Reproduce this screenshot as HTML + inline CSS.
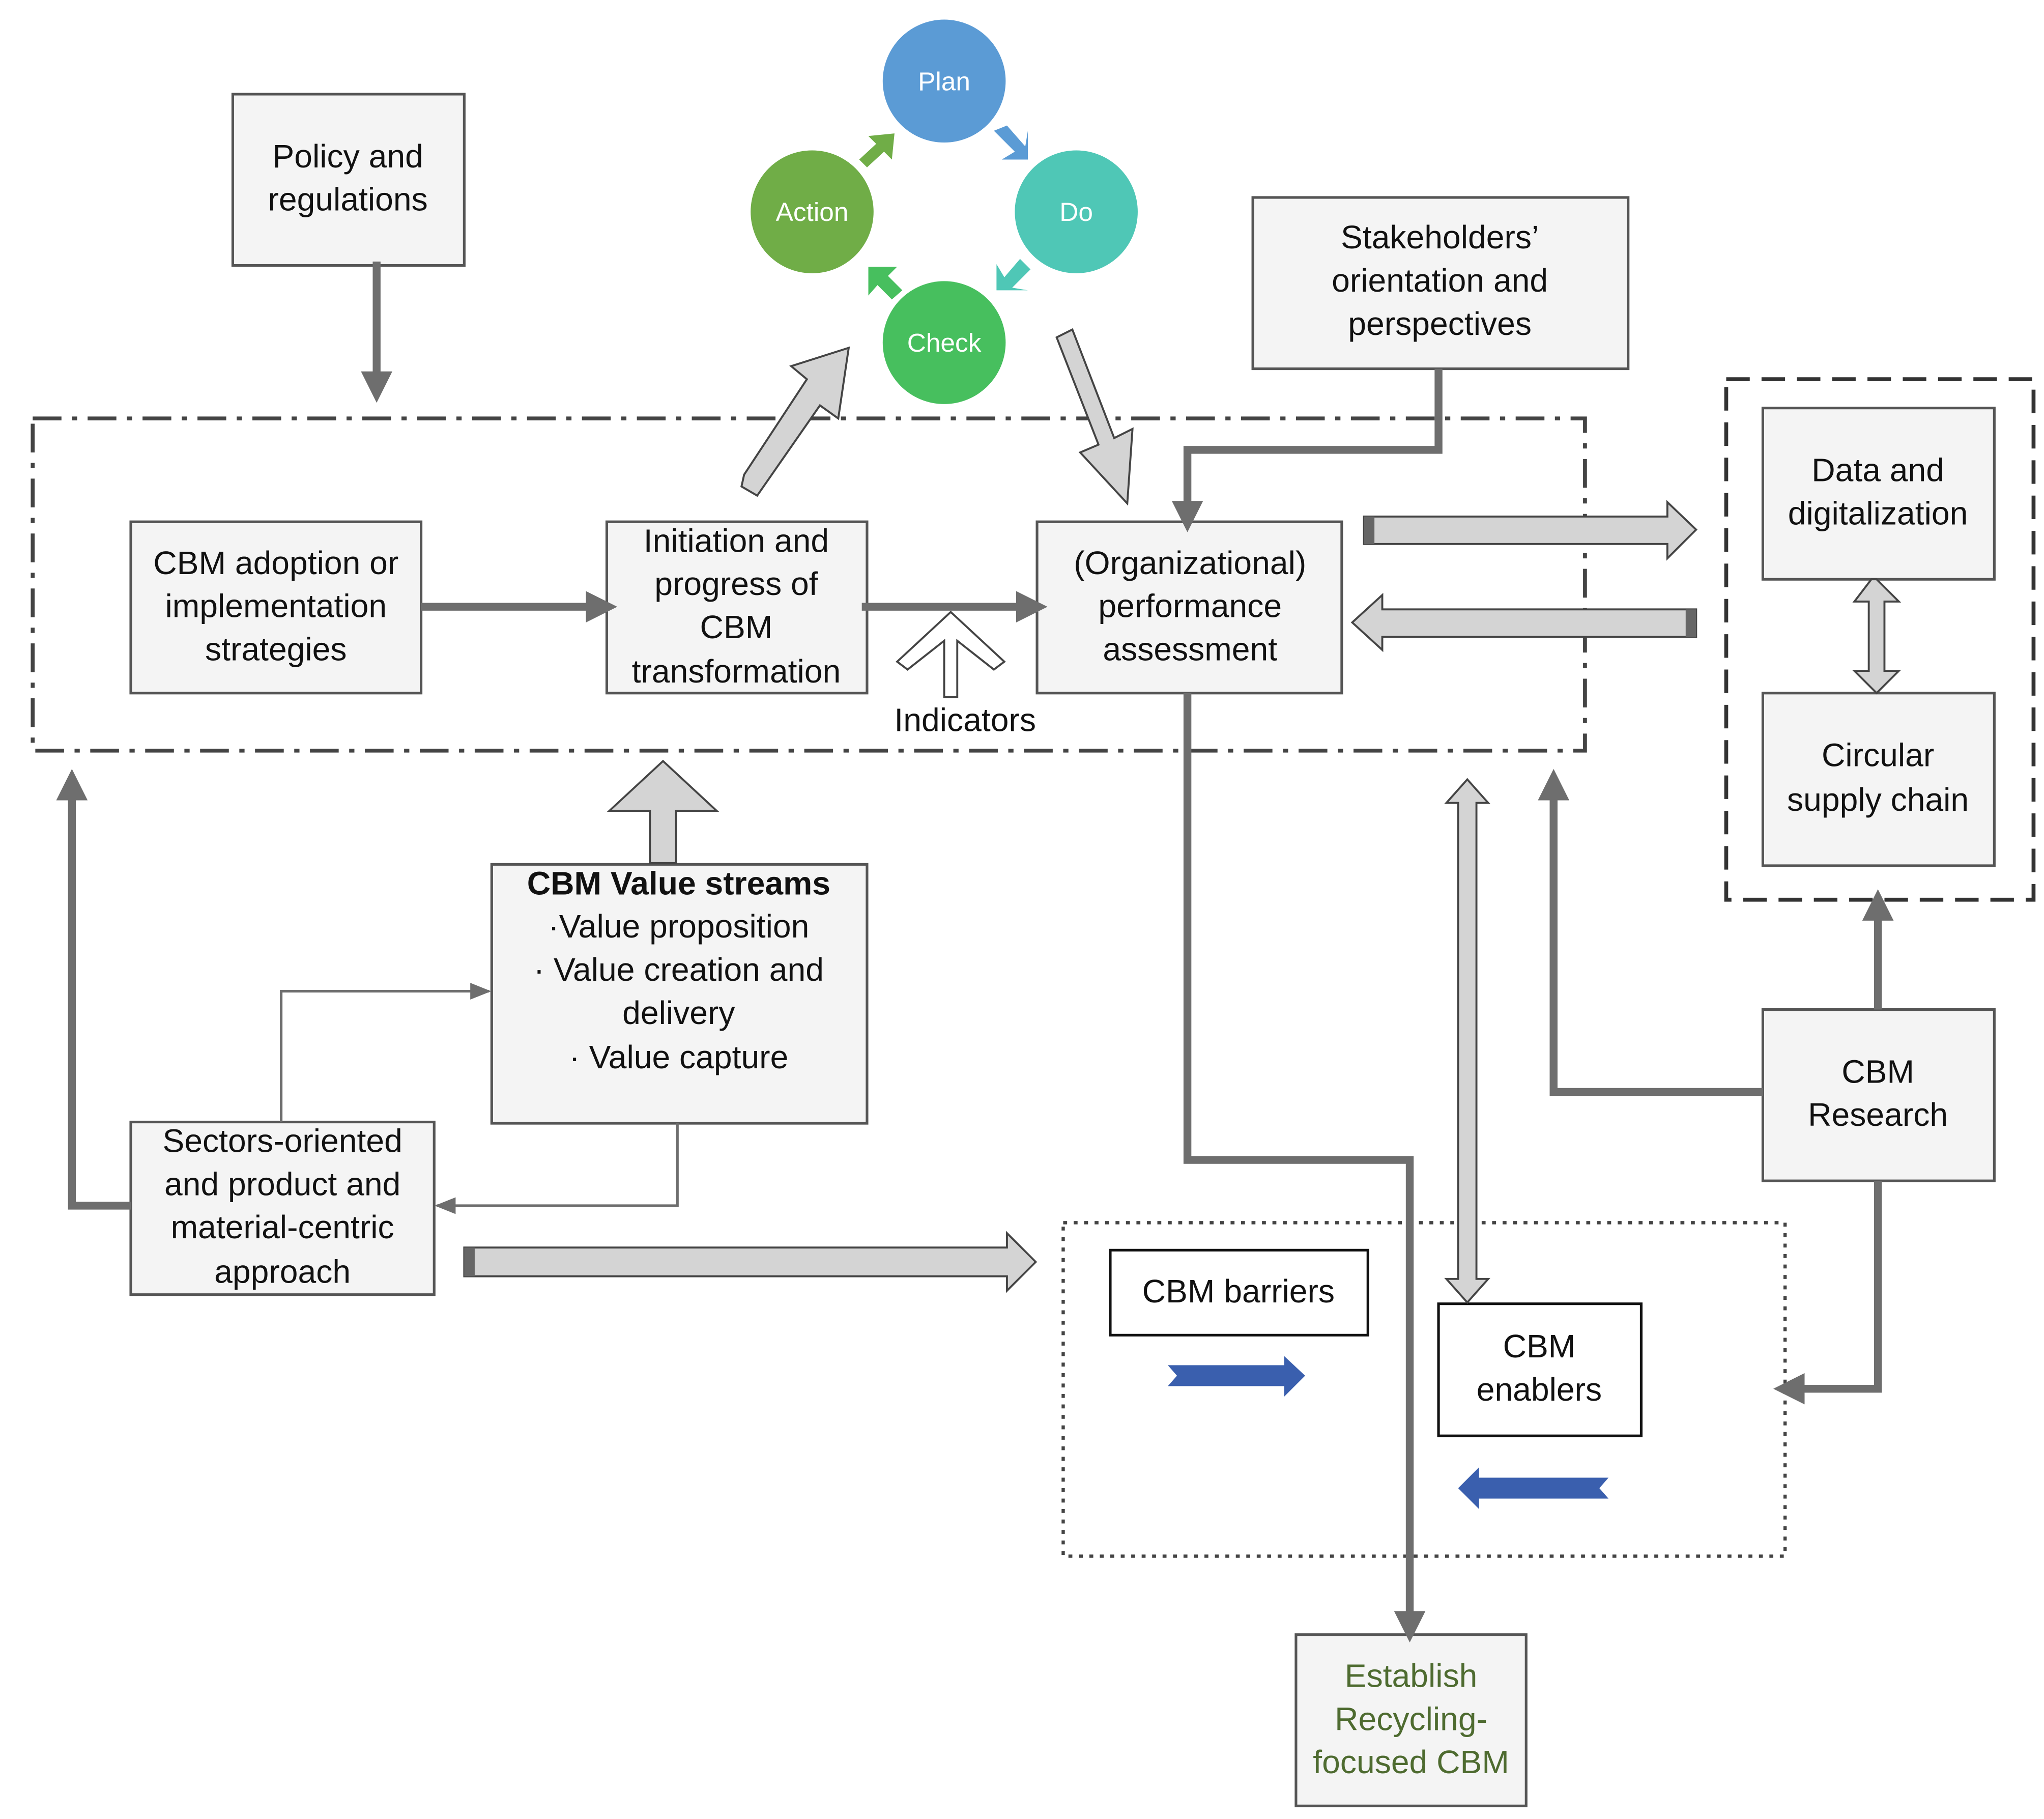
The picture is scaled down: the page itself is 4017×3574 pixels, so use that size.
<!DOCTYPE html>
<html><head><meta charset="utf-8"><style>
html,body{margin:0;padding:0;background:#fff;}
svg{display:block;}
text{font-family:"Liberation Sans",sans-serif;font-size:25px;fill:#111;text-anchor:middle;}
.box{fill:#f4f4f4;stroke:#555;stroke-width:2;}
.ln{stroke:#6e6e6e;fill:none;stroke-width:6;}
.tn{stroke:#6e6e6e;fill:none;stroke-width:2;}
.blk{fill:#d4d4d4;stroke:#444;stroke-width:1.5;}
.ct{fill:#fff;font-size:20px;}
</style></head><body>
<svg width="4017" height="3574" viewBox="0 0 1563 1391" preserveAspectRatio="none" xmlns="http://www.w3.org/2000/svg">
<defs>
<marker id="ah" viewBox="0 0 10 10" refX="5" refY="5" markerWidth="4" markerHeight="4" orient="auto"><path d="M0,0 L10,5 L0,10 z" fill="#6e6e6e"/></marker>
<marker id="at" viewBox="0 0 10 10" refX="9" refY="5" markerWidth="8" markerHeight="8" orient="auto"><path d="M0,1 L10,5 L0,9 z" fill="#6e6e6e"/></marker>
</defs>

<rect x="25" y="320" width="1187" height="254" fill="none" stroke="#444" stroke-width="3" stroke-dasharray="22,8,4,8"/>
<rect x="1320" y="290" width="235" height="398" fill="none" stroke="#333" stroke-width="3" stroke-dasharray="18,9"/>
<rect x="813" y="935" width="552" height="255" fill="none" stroke="#444" stroke-width="2.5" stroke-dasharray="3,5"/>

<rect class="box" x="178" y="72" width="177" height="131"/>
<text x="266" y="128">Policy and</text><text x="266" y="161">regulations</text>

<rect class="box" x="100" y="399" width="222" height="131"/>
<text x="211" y="439">CBM adoption or</text><text x="211" y="472">implementation</text><text x="211" y="505">strategies</text>

<rect class="box" x="464" y="399" width="199" height="131"/>
<text x="563" y="422">Initiation and</text><text x="563" y="455">progress of</text><text x="563" y="488">CBM</text><text x="563" y="522">transformation</text>

<rect class="box" x="793" y="399" width="233" height="131"/>
<text x="910" y="439">(Organizational)</text><text x="910" y="472">performance</text><text x="910" y="505">assessment</text>

<rect class="box" x="958" y="151" width="287" height="131"/>
<text x="1101" y="190">Stakeholders’</text><text x="1101" y="223">orientation and</text><text x="1101" y="256">perspectives</text>

<rect class="box" x="1348" y="312" width="177" height="131"/>
<text x="1436" y="368">Data and</text><text x="1436" y="401">digitalization</text>

<rect class="box" x="1348" y="530" width="177" height="132"/>
<text x="1436" y="586">Circular</text><text x="1436" y="620">supply chain</text>

<rect class="box" x="376" y="661" width="287" height="198"/>
<text x="519" y="684" style="font-weight:bold">CBM Value streams</text>
<text x="519" y="717">·Value proposition</text>
<text x="519" y="750">· Value creation and</text>
<text x="519" y="783">delivery</text>
<text x="519" y="817">· Value capture</text>

<rect class="box" x="100" y="858" width="232" height="132"/>
<text x="216" y="881">Sectors-oriented</text><text x="216" y="914">and product and</text><text x="216" y="947">material-centric</text><text x="216" y="981">approach</text>

<rect class="box" x="1348" y="772" width="177" height="131"/>
<text x="1436" y="828">CBM</text><text x="1436" y="861">Research</text>

<rect x="849" y="956" width="197" height="65" fill="#fff" stroke="#111" stroke-width="2"/>
<text x="947" y="996">CBM barriers</text>
<rect x="1100" y="997" width="155" height="101" fill="#fff" stroke="#111" stroke-width="2"/>
<text x="1177" y="1038">CBM</text><text x="1177" y="1071">enablers</text>

<rect class="box" x="991" y="1250" width="176" height="131"/>
<text x="1079" y="1290" style="fill:#4e6b30">Establish</text><text x="1079" y="1323" style="fill:#4e6b30">Recycling-</text><text x="1079" y="1356" style="fill:#4e6b30">focused CBM</text>

<circle cx="722" cy="62" r="47" fill="#5b9bd5"/><text class="ct" x="722" y="69">Plan</text>
<circle cx="621" cy="162" r="47" fill="#70ad47"/><text class="ct" x="621" y="169">Action</text>
<circle cx="823" cy="162" r="47" fill="#4fc7b6"/><text class="ct" x="823" y="169">Do</text>
<circle cx="722" cy="262" r="47" fill="#47bf5e"/><text class="ct" x="722" y="269">Check</text>
<polygon points="760,100 770,96 784,112 786,100 786,122 766,122 776,116" fill="#5b9bd5"/>
<polygon points="788,206 774,220 786,222 762,222 762,202 768,212 780,198" fill="#4fc7b6"/>
<polygon points="664,204 686,204 679,211 690,222 682,229 671,218 664,226" fill="#47bf5e"/>
<polygon points="657,122 670,110 664,104 684,102 682,122 676,116 663,128" fill="#70ad47"/>

<polyline class="ln" points="288,200 288,296" marker-end="url(#ah)"/>
<polyline class="ln" points="322,464 460,464" marker-end="url(#ah)"/>
<polyline class="ln" points="659,464 789,464" marker-end="url(#ah)"/>
<polyline class="ln" points="1100,282 1100,344 908,344 908,395" marker-end="url(#ah)"/>
<polyline class="ln" points="100,922 55,922 55,600" marker-end="url(#ah)"/>
<polyline class="ln" points="1348,835 1188,835 1188,600" marker-end="url(#ah)"/>
<polyline class="ln" points="1436,772 1436,692" marker-end="url(#ah)"/>
<polyline class="ln" points="1436,903 1436,1062 1368,1062" marker-end="url(#ah)"/>
<polyline class="ln" points="908,530 908,887 1078,887 1078,1244" marker-end="url(#ah)"/>
<polyline class="tn" points="215,858 215,758 374,758" marker-end="url(#at)"/>
<polyline class="tn" points="518,859 518,922 334,922" marker-end="url(#at)"/>

<polygon class="blk" points="722,533 732,533 732,490 760,512 768,506 727,468 686,506 694,512 722,490" style="fill:#fff"/>
<text x="738" y="559">Indicators</text>
<polygon class="blk" points="497,660 517,660 517,620 548,620 507,582 466,620 497,620"/>
<polygon class="blk" points="567,374 579,381 627,312 641,322 649,268 605,282 617,292 569,365" transform="translate(0,-2)"/>
<polygon class="blk" points="808,258 820,252 852,335 866,328 862,385 826,346 840,340"/>

<polygon class="blk" points="1043,395 1275,395 1275,384 1297,405 1275,427 1275,416 1043,416"/>
<rect x="1043" y="395" width="8" height="21" fill="#666"/>
<polygon class="blk" points="1297,466 1057,466 1057,455 1034,476 1057,497 1057,487 1297,487"/>
<rect x="1289" y="466" width="8" height="21" fill="#666"/>
<polygon class="blk" points="355,954 770,954 770,943 792,965 770,987 770,976 355,976"/>
<rect x="355" y="954" width="8" height="22" fill="#666"/>

<polygon class="blk" points="1431,443 1418,460 1429,460 1429,513 1418,513 1435,530 1452,513 1441,513 1441,460 1452,460 1435,443"/>
<polygon class="blk" points="1122,596 1106,614 1115,614 1115,978 1106,978 1122,996 1138,978 1129,978 1129,614 1138,614"/>

<polygon points="893,1044 982,1044 982,1037 998,1052 982,1068 982,1060 893,1060 900,1052" fill="#3a5fae"/>
<polygon points="1230,1130 1131,1130 1131,1122 1115,1138 1131,1154 1131,1146 1230,1146 1223,1138" fill="#3a5fae"/>
</svg>
</body></html>
